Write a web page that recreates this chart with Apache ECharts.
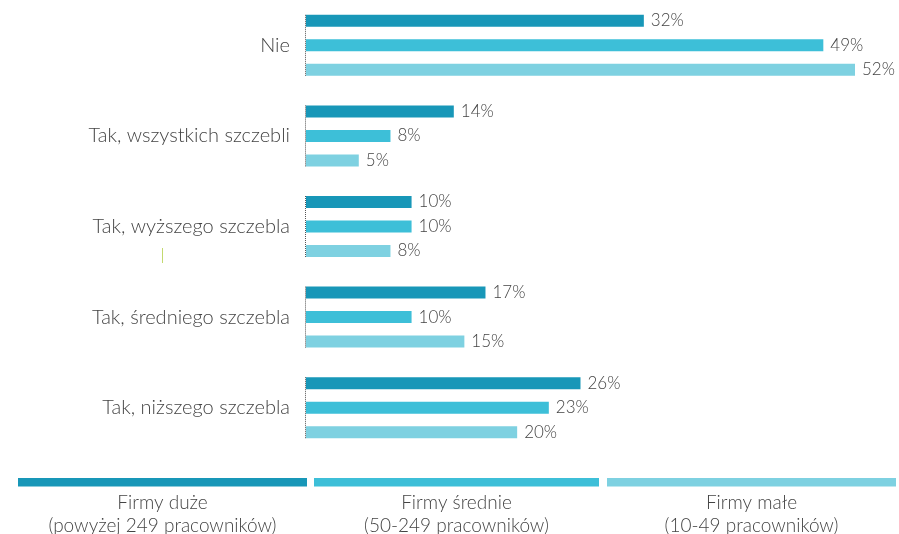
<!DOCTYPE html>
<html>
<head>
<meta charset="utf-8">
<script src="https://cdn.jsdelivr.net/npm/echarts@6/dist/echarts.min.js"></script>
<style>
  html, body { margin: 0; padding: 0; background: #fff; }
  #chart { width: 899px; height: 534px; }
</style>
</head>
<body>
<div id="chart"></div>
<script>
// Categories (top to bottom)
const categories = [
  'Nie',
  'Tak, wszystkich szczebli',
  'Tak, wyższego szczebla',
  'Tak, średniego szczebla',
  'Tak, niższego szczebla'
];

// Series names and their second-line descriptions
const seriesNames = ['Firmy duże', 'Firmy średnie', 'Firmy małe'];
const seriesNotes = ['(powyżej 249 pracowników)', '(50-249 pracowników)', '(10-49 pracowników)'];

// Values in percent
const largeFirms = [32, 14, 10, 17, 26];
const mediumFirms = [49, 8, 10, 10, 23];
const smallFirms = [52, 5, 8, 15, 20];

const colors = ['#1897b8', '#3dbfd8', '#7ed1e1'];
const FONT = 'Lato';
const TEXT = '#444444';
const BAR_W = 12;
const BAR_GAP = 12.5;

const chart = echarts.init(document.getElementById('chart'));

const valueSets = [largeFirms, mediumFirms, smallFirms];

const barSeries = valueSets.map((vals, i) => ({
  name: seriesNames[i],
  type: 'bar',
  data: vals,
  barWidth: BAR_W,
  barGap: (BAR_GAP / BAR_W * 100) + '%',
  itemStyle: { color: colors[i] },
  label: {
    show: true,
    position: 'right',
    distance: 7,
    formatter: '{c}%',
    color: TEXT,
    fontFamily: FONT,
    fontWeight: 300,
    fontSize: 17
  },
  silent: true
}));

// Dotted baseline segment alongside each group of bars
const halfGroup = 1.5 * BAR_W + BAR_GAP;
const baseSeries = {
  type: 'custom',
  silent: true,
  z: 5,
  data: categories.map((c, i) => [0, i]),
  encode: { x: 0, y: 1 },
  renderItem: function (params, api) {
    const p = api.coord([api.value(0), api.value(1)]);
    return {
      type: 'line',
      shape: { x1: p[0] - 0.5, y1: p[1] - halfGroup, x2: p[0] - 0.5, y2: p[1] + halfGroup },
      style: { stroke: '#555', lineWidth: 1, lineDash: [1, 1] }
    };
  }
};

// Legend drawn as wide colour bands with two-line captions underneath
const legendSpans = [[18, 307], [314, 599], [607, 896]];
const legendGraphics = [];
legendSpans.forEach((s, i) => {
  legendGraphics.push({
    type: 'rect',
    shape: { x: s[0], y: 478, width: s[1] - s[0], height: 8.5 },
    style: { fill: colors[i] },
    silent: true
  });
  legendGraphics.push({
    type: 'text',
    x: (s[0] + s[1]) / 2,
    y: 491.5,
    style: {
      text: seriesNames[i] + '\n' + seriesNotes[i],
      align: 'center',
      verticalAlign: 'top',
      lineHeight: 23,
      fill: TEXT,
      font: '300 19px ' + FONT
    },
    silent: true
  });
});
// thin stray mark
legendGraphics.push({
  type: 'line',
  shape: { x1: 162.5, y1: 248, x2: 162.5, y2: 263 },
  style: { stroke: '#c3d96f', lineWidth: 1 },
  silent: true
});

chart.setOption({
  animation: false,
  grid: { left: 306, right: 44, top: -1, bottom: 81 },
  xAxis: {
    type: 'value',
    min: 0,
    max: 52,
    show: false
  },
  yAxis: {
    type: 'category',
    data: categories,
    inverse: true,
    axisLine: { show: false },
    axisTick: { show: false },
    splitLine: { show: false },
    axisLabel: {
      margin: 16,
      color: TEXT,
      fontFamily: FONT,
      fontWeight: 300,
      fontSize: 20
    }
  },
  series: barSeries.concat([baseSeries]),
  graphic: legendGraphics
});
</script>
</body>
</html>
